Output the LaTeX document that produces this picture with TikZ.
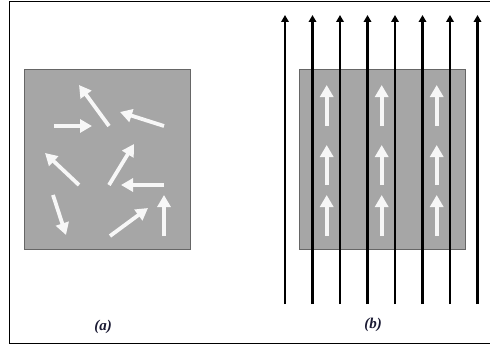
\documentclass[tikz,border=0pt]{standalone}
\usepackage{fontspec}
\setmainfont{Liberation Serif}
\usepackage{xcolor}
\usepackage{tikz}
\usetikzlibrary{arrows.meta}
\definecolor{mgray}{HTML}{A6A6A6}
\definecolor{mborder}{HTML}{666666}
\definecolor{mwhite}{HTML}{F7F7F7}
\definecolor{mlabel}{HTML}{1A1A33}

\begin{document}
\begin{tikzpicture}[x=1pt,y=-1pt,
    sample/.style={fill=mgray,draw=mborder,line width=1pt},
    spin/.style={-{Triangle[length=12pt,width=13pt]},mwhite,line width=3.8pt},
    field/.style={-{Triangle[length=7pt,width=7.5pt]},black,line width=2.4pt},
    caption/.style={mlabel,font=\fontsize{15}{15}\selectfont\bfseries\itshape}]
      \useasboundingbox (0,0) rectangle (490,345);
      % Frame
      \draw[black,line width=0.8pt] (490,1) -- (9,1) -- (9,343) -- (490,343);

      % (a) random moments
      \draw[sample] (24,70) rectangle (190,249);
      \foreach \xa/\ya/\xb/\yb in {109/126/79/85, 54/126/92/126, 164/126/120/112,
          79/185/45/153, 109/185/134/144, 164/185/121/185,
          53/195/66/235, 110/236/148/208, 164/236/164/195}
        \draw[spin] (\xa,\ya) -- (\xb,\yb);
      \node[caption] (capa) at (103,327) {(a)};

      % (b) aligned moments in a field
      \draw[sample] (299,70) rectangle (465,249);
      \foreach \x in {326.7,381.7,436.7}
        \foreach \ya/\yb in {126/85, 185/145, 236/195}
          \draw[spin] (\x,\ya) -- (\x,\yb);
      \foreach \i in {0,...,7}
        \draw[field] (285+27.5*\i,304) -- (285+27.5*\i,15);
      \node[caption] (capb) at (373,325) {(b)};
\end{tikzpicture}
\end{document}
